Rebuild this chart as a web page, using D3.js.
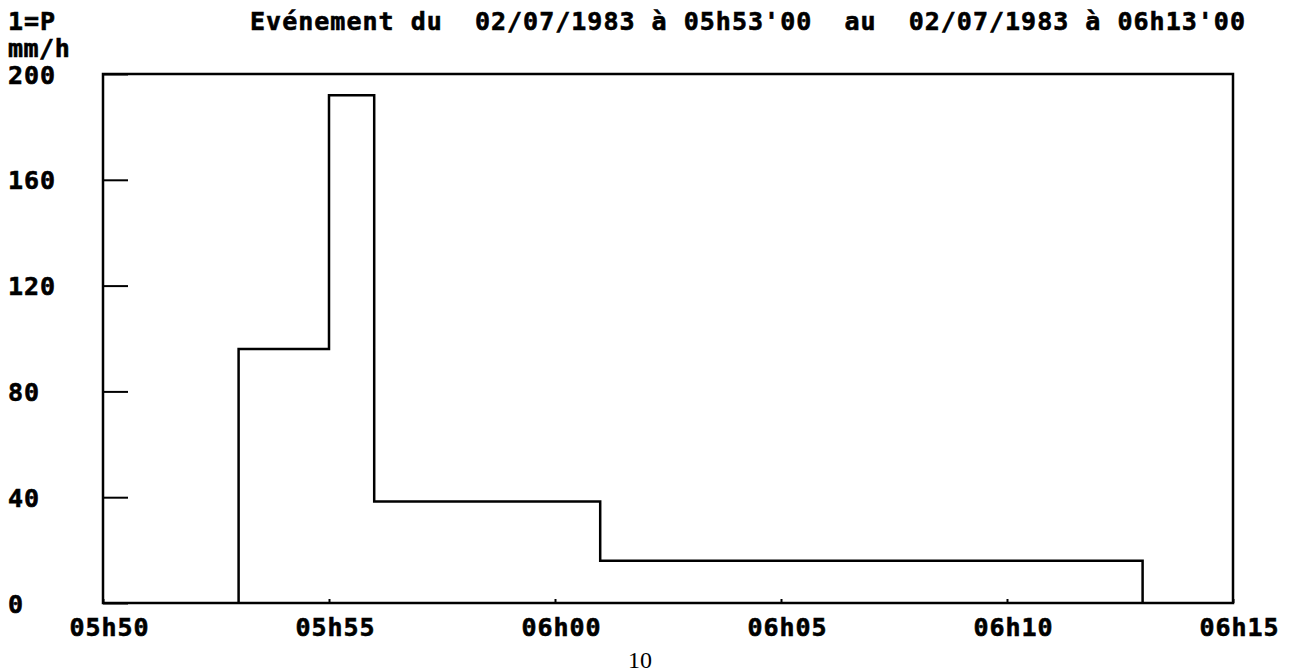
<!DOCTYPE html>
<html>
<head>
<meta charset="utf-8">
<script src="https://cdn.jsdelivr.net/npm/d3@7"></script>
<style>
  body { margin: 0; background: #fff; }
  text { font-family: "DejaVu Sans Mono", monospace; font-weight: bold; fill: #000; }
  .heavy { stroke: #000; stroke-width: 0.6px; }
</style>
</head>
<body>
<div id="chart"></div>
<script>
// Chart data: rainfall intensity (mm/h) per time step
var stepStarts = ["05h53", "05h55", "05h56", "06h01"];
var stepEnd = "06h13";
var intensities = [96, 192, 38.4, 16];
var yTicks = [0, 40, 80, 120, 160, 200];
var titleText = "Evénement du  02/07/1983 à 05h53'00  au  02/07/1983 à 06h13'00";

var svgWidth = 1292;
var svgHeight = 672;

var margin = { top: 74, right: 59, bottom: 69, left: 103 };
var width = svgWidth - margin.left - margin.right;
var height = svgHeight - margin.top - margin.bottom;

var svg = d3.select("#chart")
    .append("svg")
    .attr("width", svgWidth)
    .attr("height", svgHeight);

var chartGroup = svg.append("g")
    .attr("transform", `translate(${margin.left}, ${margin.top})`);

var parseTime = d3.timeParse("%Hh%M");

var xScale = d3.scaleTime()
    .domain([parseTime("05h50"), parseTime("06h15")])
    .range([0, width]);

var yScale = d3.scaleLinear()
    .domain([0, 200])
    .range([height, 0]);

// y axis: inward ticks, labels left-aligned at the page edge
var leftAxis = d3.axisLeft(yScale)
    .tickValues(yTicks)
    .tickSizeInner(-25)
    .tickSizeOuter(0);

var yAxis = chartGroup.append("g").call(leftAxis);
yAxis.select(".domain").remove();
yAxis.selectAll("line").attr("stroke", "#000").attr("stroke-width", 2);
yAxis.selectAll("text")
    .classed("heavy", true)
    .attr("x", 8 - margin.left)
    .attr("text-anchor", "start")
    .attr("dy", "0.36em")
    .style("font-size", "25px")
    .style("letter-spacing", "1px")
    .style("font-family", "DejaVu Sans Mono")
    .style("font-weight", "bold");

// x axis: tiny inward ticks every 5 minutes
var bottomAxis = d3.axisBottom(xScale)
    .ticks(d3.timeMinute.every(5))
    .tickFormat(d3.timeFormat("%Hh%M"))
    .tickSizeInner(-4)
    .tickSizeOuter(0)
    .tickPadding(15);

var xAxis = chartGroup.append("g")
    .attr("transform", `translate(0, ${height})`)
    .call(bottomAxis);
xAxis.select(".domain").remove();
xAxis.selectAll("line").attr("stroke", "#000").attr("stroke-width", 2);
xAxis.selectAll("text")
    .classed("heavy", true)
    .attr("dx", 6)
    .style("font-size", "25px")
    .style("letter-spacing", "1px")
    .style("font-family", "DejaVu Sans Mono")
    .style("font-weight", "bold");

// frame
chartGroup.append("rect")
    .attr("x", 0)
    .attr("y", 0)
    .attr("width", width)
    .attr("height", height)
    .attr("fill", "none")
    .attr("stroke", "#000")
    .attr("stroke-width", 2.5);

// step line
var points = [{ t: parseTime(stepStarts[0]), v: 0 }];
stepStarts.forEach(function(s, i) {
    points.push({ t: parseTime(s), v: intensities[i] });
});
points.push({ t: parseTime(stepEnd), v: 0 });

var stepLine = d3.line()
    .x(d => xScale(d.t))
    .y(d => yScale(d.v))
    .curve(d3.curveStepAfter);

chartGroup.append("path")
    .datum(points)
    .attr("d", stepLine)
    .attr("fill", "none")
    .attr("stroke", "#000")
    .attr("stroke-width", 2.5);

// header texts
svg.append("text")
    .attr("class", "heavy")
    .attr("x", 8)
    .attr("y", 30)
    .style("font-size", "25px")
    .style("letter-spacing", "1px")
    .text("1=P");

svg.append("text")
    .attr("class", "heavy")
    .attr("x", 8)
    .attr("y", 57)
    .style("font-size", "25px")
    .style("letter-spacing", "0.5px")
    .text("mm/h");

svg.append("text")
    .attr("class", "heavy")
    .attr("x", 250)
    .attr("y", 30)
    .attr("xml:space", "preserve")
    .style("white-space", "pre")
    .style("font-size", "25px")
    .attr("textLength", 995)
    .attr("lengthAdjust", "spacing")
    .text(titleText);

// page number
svg.append("text")
    .attr("x", 640)
    .attr("y", 668)
    .attr("text-anchor", "middle")
    .style("font-family", "Liberation Serif, serif")
    .style("font-weight", "normal")
    .style("font-size", "24px")
    .text("10");
</script>
</body>
</html>
